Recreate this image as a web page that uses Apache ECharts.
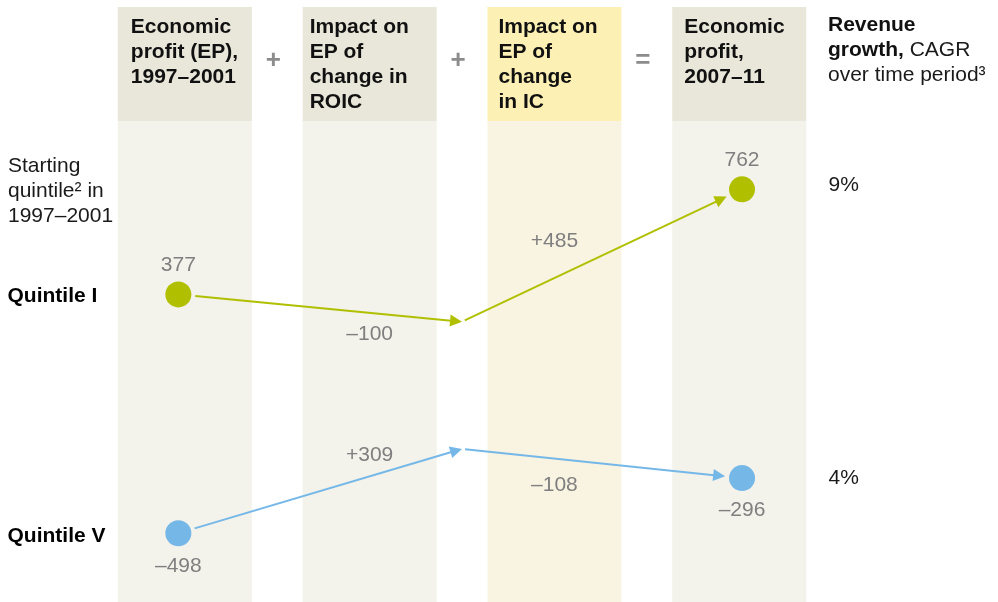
<!DOCTYPE html>
<html>
<head>
<meta charset="utf-8">
<script src="https://cdn.jsdelivr.net/npm/echarts@6/dist/echarts.min.js"></script>
<style>
  html, body { margin: 0; padding: 0; background: #fff; }
  #chart { width: 998px; height: 602px; }
</style>
</head>
<body>
<div id="chart"></div>
<script>
// data
const stageHeaders = [
  'Economic\nprofit (EP),\n1997–2001',
  'Impact on\nEP of\nchange in\nROIC',
  'Impact on\nEP of\nchange\nin IC',
  'Economic\nprofit,\n2007–11',
];
const operators = ['+', '+', '='];
const quintiles = ['Quintile I', 'Quintile V'];
const startEP = [377, -498];
const roicImpact = [-100, 309];
const icImpact = [485, -108];
const endEP = [762, -296];
const revenueGrowth = ['9%', '4%'];

// layout / style
const FONT = '"Liberation Sans", Arial, Helvetica, sans-serif';
const quintileColors = ['#b0c000', '#75b8e8'];
const stepX = [-0.035, 1.5, 3.015]; // start dot, joint after ROIC, end dot
const colHalf = 0.3625;
const headerH = 114;
const headerInset = [13, 7, 11, 12];
const highlightCol = 2;
const dotGap = 17;
const jointGap = 3;
const arrowLen = 12;
const arrowHalf = 6;
const roicLabelGap = [10, 10];
const icLabelGap = [26, 16];

const fmt = v => (v < 0 ? '–' + Math.abs(v) : String(v));
const signed = v => (v < 0 ? '–' + Math.abs(v) : '+' + v);

const chart = echarts.init(document.getElementById('chart'));

const columnSeries = {
  type: 'custom',
  silent: true,
  z: 1,
  clip: false,
  data: stageHeaders.map((h, i) => [i]),
  encode: {x: 0},
  renderItem: (params, api) => {
    const idx = api.value(0);
    const cs = params.coordSys;
    const left = api.coord([idx - colHalf, 0])[0];
    const right = api.coord([idx + colHalf, 0])[0];
    const hi = idx === highlightCol;
    const children = [
      {
        type: 'rect',
        shape: {x: left, y: cs.y, width: right - left, height: headerH},
        style: {fill: hi ? '#fcf0b5' : '#e9e7da'},
      },
      {
        type: 'rect',
        shape: {x: left, y: cs.y + headerH, width: right - left, height: cs.height - headerH},
        style: {fill: hi ? '#f9f4e2' : '#f3f2eb'},
      },
      {
        type: 'text',
        style: {
          text: stageHeaders[idx],
          x: left + headerInset[idx],
          y: cs.y + 8,
          font: 'bold 21px ' + FONT,
          lineHeight: 25,
          fill: '#111',
          verticalAlign: 'top',
        },
      },
    ];
    if (idx < operators.length) {
      const mid = api.coord([idx + 0.5, 0])[0] - 4;
      children.push({
        type: 'text',
        style: {
          text: operators[idx],
          x: mid,
          y: 61,
          align: 'center',
          verticalAlign: 'middle',
          font: 'bold 26px ' + FONT,
          fill: '#8c8c8c',
        },
      });
    }
    return {type: 'group', children: children};
  },
};

const arrowData = [];
quintiles.forEach((q, i) => {
  const joint = startEP[i] + roicImpact[i];
  arrowData.push([stepX[0], startEP[i], stepX[1], joint, dotGap, 0, i]);
  arrowData.push([stepX[1], joint, stepX[2], endEP[i], jointGap, dotGap, i]);
});

const arrowSeries = {
  type: 'custom',
  silent: true,
  z: 3,
  data: arrowData,
  encode: {x: [0, 2], y: [1, 3]},
  renderItem: (params, api) => {
    const p0 = api.coord([api.value(0), api.value(1)]);
    const p1 = api.coord([api.value(2), api.value(3)]);
    const g0 = api.value(4);
    const g1 = api.value(5);
    const color = quintileColors[api.value(6)];
    const dx = p1[0] - p0[0];
    const dy = p1[1] - p0[1];
    const len = Math.hypot(dx, dy);
    const ux = dx / len;
    const uy = dy / len;
    const s = [p0[0] + ux * g0, p0[1] + uy * g0];
    const tip = [p1[0] - ux * g1, p1[1] - uy * g1];
    const base = [tip[0] - ux * arrowLen, tip[1] - uy * arrowLen];
    const nx = -uy;
    const ny = ux;
    return {
      type: 'group',
      children: [
        {
          type: 'line',
          shape: {x1: s[0], y1: s[1], x2: base[0] + ux, y2: base[1] + uy},
          style: {stroke: color, lineWidth: 2},
        },
        {
          type: 'polygon',
          shape: {
            points: [
              tip,
              [base[0] + nx * arrowHalf, base[1] + ny * arrowHalf],
              [base[0] - nx * arrowHalf, base[1] - ny * arrowHalf],
            ],
          },
          style: {fill: color},
        },
      ],
    };
  },
};

const series = [columnSeries, arrowSeries];
const hiddenDot = {color: 'transparent', opacity: 1};

quintiles.forEach((q, i) => {
  const joint = startEP[i] + roicImpact[i];
  const labelPos = i === 0 ? 'top' : 'bottom';
  // dots
  series.push({
    type: 'scatter',
    name: q,
    z: 4,
    symbolSize: 26,
    itemStyle: {color: quintileColors[i], opacity: 1},
    data: [[stepX[0], startEP[i]], [stepX[2], endEP[i]]],
    label: {
      show: true,
      position: labelPos,
      distance: i === 0 ? 6 : 9,
      color: '#7f7f7f',
      fontFamily: FONT,
      fontSize: 21,
      formatter: p => fmt(p.value[1]),
    },
  });
  // change labels
  const roicAt = startEP[i] + roicImpact[i] * (1 - stepX[0]) / (stepX[1] - stepX[0]);
  const icAt = joint + (endEP[i] - joint) * (2 - stepX[1]) / (stepX[2] - stepX[1]);
  series.push({
    type: 'scatter',
    z: 4,
    silent: true,
    symbolSize: 1,
    itemStyle: hiddenDot,
    label: {show: true, color: '#7f7f7f', fontFamily: FONT, fontSize: 21},
    data: [
      {
        value: [1, roicAt],
        label: {
          position: roicImpact[i] < 0 ? 'bottom' : 'top',
          distance: roicLabelGap[i],
          formatter: signed(roicImpact[i]),
        },
      },
      {
        value: [2, icAt],
        label: {
          position: icImpact[i] < 0 ? 'bottom' : 'top',
          distance: icLabelGap[i],
          formatter: signed(icImpact[i]),
        },
      },
    ],
  });
  // quintile name
  series.push({
    type: 'scatter',
    z: 4,
    silent: true,
    symbolSize: 1,
    itemStyle: hiddenDot,
    data: [[-1, startEP[i]]],
    label: {
      show: true,
      position: 'right',
      distance: 7,
      offset: [0, i === 0 ? 2 : 3],
      color: '#000',
      fontFamily: FONT,
      fontSize: 21,
      fontWeight: 'bold',
      formatter: q,
    },
  });
  // revenue growth
  series.push({
    type: 'scatter',
    z: 4,
    silent: true,
    symbolSize: 1,
    itemStyle: hiddenDot,
    data: [[stepX[2], endEP[i]]],
    label: {
      show: true,
      position: 'right',
      distance: 86,
      offset: [0, i === 0 ? -4 : 0],
      color: '#1a1a1a',
      fontFamily: FONT,
      fontSize: 21,
      formatter: revenueGrowth[i],
    },
  });
});

const option = {
  animation: false,
  grid: {left: 0, right: 0, top: 7, bottom: 0},
  xAxis: {type: 'value', min: -1, max: 4.4, show: false},
  yAxis: {type: 'value', min: -750, max: 1430, show: false},
  graphic: [
    {
      type: 'text',
      left: 8,
      top: 154,
      style: {
        text: 'Starting\nquintile² in\n1997–2001',
        font: '21px ' + FONT,
        lineHeight: 25,
        fill: '#1a1a1a',
      },
    },
    {
      type: 'text',
      left: 828,
      top: 15,
      style: {
        text: '{b|Revenue}\n{b|growth,}{n| CAGR}\n{n|over time period³}',
        rich: {
          b: {fontFamily: FONT, fontSize: 21, fontWeight: 'bold', lineHeight: 25, fill: '#111'},
          n: {fontFamily: FONT, fontSize: 21, lineHeight: 25, fill: '#1a1a1a'},
        },
      },
    },
  ],
  series: series,
};

chart.setOption(option);
</script>
</body>
</html>
